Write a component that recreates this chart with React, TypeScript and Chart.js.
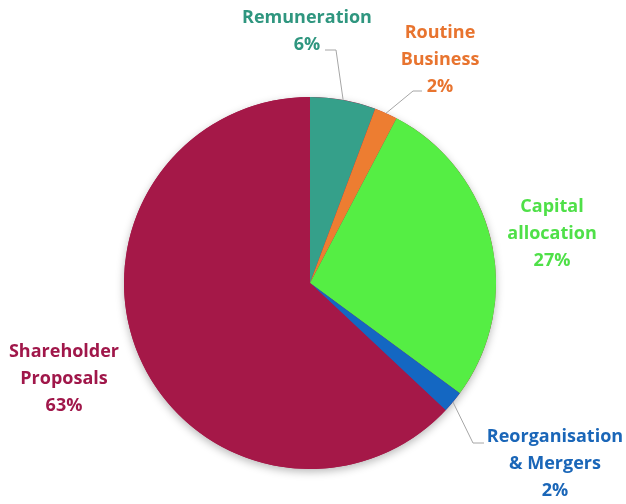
import React, { useEffect, useRef } from "react";
import { Chart, registerables } from "chart.js";

Chart.register(...registerables);

const categories = ["Remuneration", "Routine Business", "Capital allocation", "Reorganisation & Mergers", "Shareholder Proposals"];
const values = [5.7, 2.0, 27.4, 1.9, 63.0];
const sliceColors = ["#35a08a", "#ed7d31", "#55ee44", "#1467c2", "#a51848"];
const labelColors = ["#2f967f", "#e8742f", "#4fe048", "#1a66b8", "#a0174a"];
const labelLines = [["Remuneration"], ["Routine", "Business"], ["Capital", "allocation"], ["Reorganisation", "& Mergers"], ["Shareholder", "Proposals"]];

const labelAnchors = [
  { x: 307, y: 18 },
  { x: 440, y: 33 },
  { x: 552, y: 207 },
  { x: 555, y: 437 },
  { x: 64, y: 352 },
];

const FONT = "bold 18px 'Open Sans'";
const LINE_H = 27;

const labelsPlugin = {
  id: "outLabels",
  beforeDatasetsDraw(chart: any) {
    const ctx = chart.ctx;
    ctx.save();
    ctx.shadowColor = "rgba(0,0,0,0.28)";
    ctx.shadowBlur = 9;
    ctx.shadowOffsetY = 3;
    const meta = chart.getDatasetMeta(0);
    const a = meta.data[0];
    ctx.beginPath();
    ctx.arc(a.x, a.y, a.outerRadius, 0, Math.PI * 2);
    ctx.fillStyle = "#a51848";
    ctx.fill();
    ctx.restore();
  },
  afterDatasetsDraw(chart: any) {
    const ctx = chart.ctx;
    const meta = chart.getDatasetMeta(0);
    const total = values.reduce((s, v) => s + v, 0);
    ctx.save();
    ctx.font = FONT;
    ctx.textAlign = "center";
    ctx.textBaseline = "middle";
    categories.forEach((_, i) => {
      const anc = labelAnchors[i];
      ctx.fillStyle = labelColors[i];
      const lines = labelLines[i];
      lines.forEach((ln, j) => ctx.fillText(ln, anc.x, anc.y + j * LINE_H));
      const pct = Math.round((values[i] / total) * 100) + "%";
      ctx.fillText(pct, anc.x, anc.y + lines.length * LINE_H);
    });
    const arcPoint = (i: number, r: number) => {
      const el = meta.data[i];
      const mid = (el.startAngle + el.endAngle) / 2;
      return { x: el.x + Math.cos(mid) * r, y: el.y + Math.sin(mid) * r };
    };
    ctx.strokeStyle = "#a6a6a6";
    ctx.lineWidth = 1;
    const R = meta.data[0].outerRadius;
    let p = arcPoint(0, R);
    ctx.beginPath();
    ctx.moveTo(p.x, p.y);
    ctx.lineTo(336, 50);
    ctx.lineTo(325, 50);
    ctx.stroke();
    p = arcPoint(1, R);
    ctx.beginPath();
    ctx.moveTo(p.x, p.y);
    ctx.lineTo(413, 91);
    ctx.lineTo(422, 91);
    ctx.stroke();
    p = arcPoint(3, R);
    ctx.beginPath();
    ctx.moveTo(p.x, p.y);
    ctx.lineTo(473, 443);
    ctx.lineTo(484, 443);
    ctx.stroke();
    ctx.restore();
  },
};

export default function App() {
  const ref = useRef<HTMLCanvasElement>(null);
  useEffect(() => {
    document.body.style.margin = "0";
    const chart = new Chart(ref.current!, {
      type: "pie",
      data: {
        labels: categories,
        datasets: [
          {
            data: values,
            backgroundColor: sliceColors,
            borderWidth: 0,
          },
        ],
      },
      options: {
        responsive: false,
        animation: false,
        layout: { padding: { left: 124, right: 130, top: 97, bottom: 35 } },
        plugins: { legend: { display: false }, tooltip: { enabled: false } },
      },
      plugins: [labelsPlugin],
    });
    return () => chart.destroy();
  }, []);
  return <canvas ref={ref} width={626} height={504} style={{ display: "block" }} />;
}
